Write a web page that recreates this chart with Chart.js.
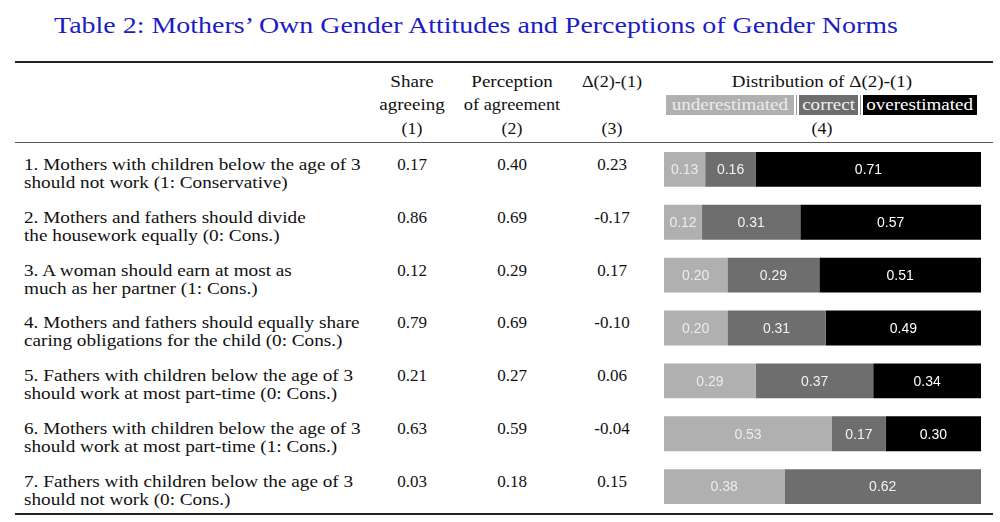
<!DOCTYPE html>
<html>
<head>
<meta charset="utf-8">
<script src="https://cdn.jsdelivr.net/npm/chart.js@4"></script>
<style>
  body { margin: 0; width: 1000px; height: 522px; background: #fff; position: relative; overflow: hidden;
         font-family: 'Liberation Serif', serif; color: #111; }
  .t { position: absolute; white-space: nowrap; line-height: 20px; font-size: 17px; transform-origin: 0 50%; }
  .c { transform-origin: 50% 50%; }
  .rule { position: absolute; left: 15px; width: 978px; background: #222; }
  #title { position: absolute; left: 476px; top: 10px; transform: translateX(-50%) scaleX(1.165); white-space: nowrap;
           font-size: 24px; line-height: 30px; color: #1c1cc4; }
  #legend { position: absolute; left: 666px; top: 95px; height: 20px; display: flex; }
  #legend .box { height: 20px; line-height: 20px; font-size: 17px; text-align: center; overflow: hidden; }
  #legend .box span { display: inline-block; transform: scaleX(1.12); }
  #legend .sep { width: 5px; height: 20px; position: relative; }
  #legend .sep::after { content: ''; position: absolute; left: 2px; top: 0; width: 1px; height: 20px; background: #999; }
  #chartWrap { position: absolute; left: 664px; top: 143px; width: 317px; height: 370px; }
</style>
</head>
<body>
<div id="title">Table 2: Mothers’ Own Gender Attitudes and Perceptions of Gender Norms</div>
<div class="rule" style="top:61px;height:2px;"></div>
<div class="rule" style="top:142px;height:1px;background:#555;"></div>
<div class="rule" style="top:513px;height:2px;"></div>
<div id="legend"></div>
<div id="chartWrap"><canvas id="distChart"></canvas></div>

<script>
const statements = [
  ['1. Mothers with children below the age of 3', 'should not work (1: Conservative)'],
  ['2. Mothers and fathers should divide', 'the housework equally (0: Cons.)'],
  ['3. A woman should earn at most as', 'much as her partner (1: Cons.)'],
  ['4. Mothers and fathers should equally share', 'caring obligations for the child (0: Cons.)'],
  ['5. Fathers with children below the age of 3', 'should work at most part-time (0: Cons.)'],
  ['6. Mothers with children below the age of 3', 'should work at most part-time (1: Cons.)'],
  ['7. Fathers with children below the age of 3', 'should not work (0: Cons.)']
];
const shareAgreeing = [0.17, 0.86, 0.12, 0.79, 0.21, 0.63, 0.03];
const perceptionAgreement = [0.40, 0.69, 0.29, 0.69, 0.27, 0.59, 0.18];
const deltaValues = [0.23, -0.17, 0.17, -0.10, 0.06, -0.04, 0.15];

const underestimated = [0.13, 0.12, 0.20, 0.20, 0.29, 0.53, 0.38];
const correct = [0.16, 0.31, 0.29, 0.31, 0.37, 0.17, 0.62];
const overestimated = [0.71, 0.57, 0.51, 0.49, 0.34, 0.30, 0];
const seriesNames = ['underestimated', 'correct', 'overestimated'];

const colors = ['#b0b0b0', '#6e6e6e', '#000000'];
const labelColors = ['#ececec', '#f2f2f2', '#ffffff'];

// --- table text ---
// Liberation Serif is narrower than Computer Modern, so words get stretched a bit
function addText(str, x, y, centered, sx) {
  const d = document.createElement('div');
  d.className = 't' + (centered ? ' c' : '');
  d.textContent = str;
  d.style.left = x + 'px';
  d.style.top = (y - 10) + 'px';
  const s = sx || 1;
  d.style.transform = (centered ? 'translateX(-50%) ' : '') + 'scaleX(' + s + ')';
  document.body.appendChild(d);
}

addText('Share', 412, 82, true, 1.12);
addText('agreeing', 412, 105, true, 1.12);
addText('(1)', 412, 129, true, 1.05);
addText('Perception', 512, 82, true, 1.12);
addText('of agreement', 512, 105, true, 1.08);
addText('(2)', 512, 129, true, 1.05);
addText('Δ(2)-(1)', 612, 82, true, 1.07);
addText('(3)', 612, 129, true, 1.05);
addText('Distribution of Δ(2)-(1)', 822, 82, true, 1.12);
addText('(4)', 822, 129, true, 1.05);

const rowPitch = 52.8;
statements.forEach((lines, i) => {
  const y = 165 + i * rowPitch;
  addText(lines[0], 24, y, false, 1.13);
  addText(lines[1], 24, y + 18, false, 1.13);
  addText(shareAgreeing[i].toFixed(2), 412, y, true);
  addText(perceptionAgreement[i].toFixed(2), 512, y, true);
  addText(deltaValues[i].toFixed(2), 612, y, true);
});

// --- legend strip ---
const legend = document.getElementById('legend');
const boxWidths = [128, 59, 114];
seriesNames.forEach((name, i) => {
  if (i > 0) {
    const s = document.createElement('div');
    s.className = 'sep';
    legend.appendChild(s);
  }
  const b = document.createElement('div');
  b.className = 'box';
  b.innerHTML = '<span>' + name + '</span>';
  b.style.width = boxWidths[i] + 'px';
  b.style.background = colors[i];
  b.style.color = labelColors[i];
  legend.appendChild(b);
});

// --- stacked bars ---
const segmentLabels = {
  id: 'segmentLabels',
  afterDatasetsDraw(chart) {
    const ctx = chart.ctx;
    ctx.save();
    ctx.font = "14px 'Liberation Sans', Arial, sans-serif";
    ctx.textAlign = 'center';
    ctx.textBaseline = 'middle';
    chart.data.datasets.forEach((ds, di) => {
      const meta = chart.getDatasetMeta(di);
      meta.data.forEach((bar, i) => {
        const v = ds.data[i];
        if (!v) return;
        ctx.fillStyle = labelColors[di];
        ctx.fillText(v.toFixed(2), (bar.x + bar.base) / 2, bar.y + 1);
      });
    });
    ctx.restore();
  }
};

const seriesData = [underestimated, correct, overestimated];
new Chart(document.getElementById('distChart'), {
  type: 'bar',
  data: {
    labels: statements.map(s => s[0]),
    datasets: seriesNames.map((name, i) => ({
      label: name,
      data: seriesData[i],
      backgroundColor: colors[i],
      borderWidth: 0,
      barPercentage: 0.66,
      categoryPercentage: 1
    }))
  },
  options: {
    indexAxis: 'y',
    responsive: true,
    maintainAspectRatio: false,
    animation: false,
    layout: { padding: 0 },
    plugins: { legend: { display: false }, tooltip: { enabled: false } },
    scales: {
      x: { stacked: true, min: 0, max: 1, display: false },
      y: { stacked: true, display: false }
    }
  },
  plugins: [segmentLabels]
});
</script>
</body>
</html>
